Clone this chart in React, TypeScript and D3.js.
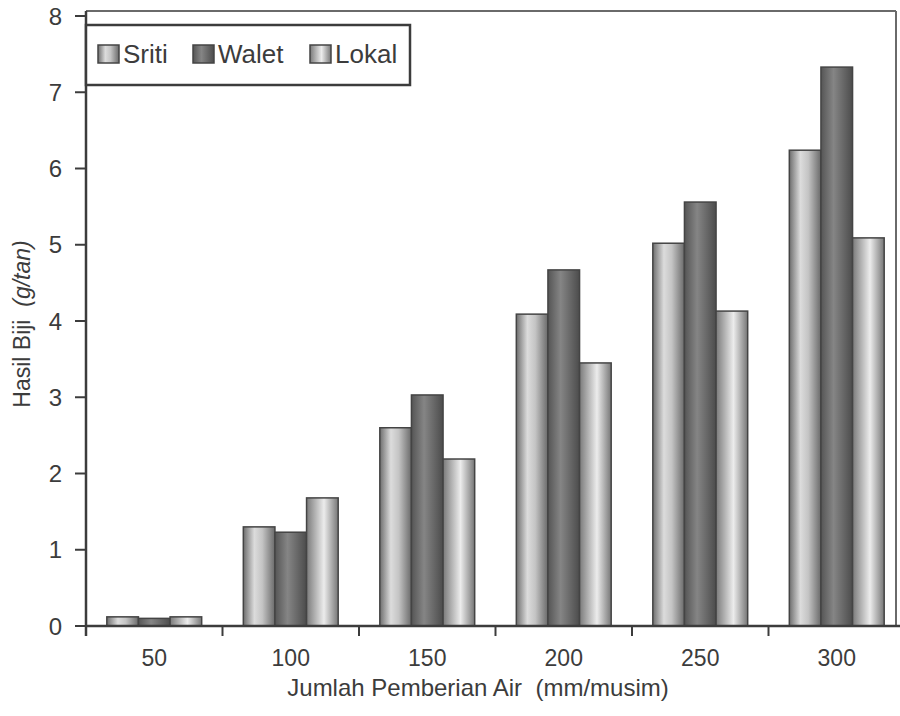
import React from "react";
import * as d3 from "d3";

const categories = ["50", "100", "150", "200", "250", "300"];
const seriesNames = ["Sriti", "Walet", "Lokal"];
const sriti = [0.12, 1.3, 2.6, 4.09, 5.02, 6.24];
const walet = [0.1, 1.23, 3.03, 4.67, 5.56, 7.33];
const lokal = [0.12, 1.68, 2.19, 3.45, 4.13, 5.09];
const yTicks = [0, 1, 2, 3, 4, 5, 6, 7, 8];

const seriesValues = [sriti, walet, lokal];
const gradIds = ["gSriti", "gWalet", "gLokal"];

export default function App() {
  const W = 900, H = 716;
  const x0 = 86, x1 = 905, yTop = 16, yBot = 626;
  const frameTop = 11, frameRight = 896;
  const x = d3.scaleBand<string>().domain(categories).range([x0, x1]).paddingInner(0.305).paddingOuter(0.1525);
  const xs = d3.scaleBand<string>().domain(seriesNames).range([0, x.bandwidth()]);
  const y = d3.scaleLinear().domain([0, 8]).range([yBot, yTop]);
  const step = x.step();
  const tickXs = d3.range(categories.length).map((i) => x0 + i * step);
  const ink = "#3c3c3c";
  const font = "Liberation Sans, Arial, sans-serif";

  return (
    <svg width={W} height={H} style={{ position: "absolute", left: 0, top: 0, background: "#fff" }}>
      <defs>
        <linearGradient id="gSriti" x1="0" x2="1" y1="0" y2="0">
          <stop offset="0%" stopColor="#6e6e6e" />
          <stop offset="35%" stopColor="#dcdcdc" />
          <stop offset="60%" stopColor="#c4c4c4" />
          <stop offset="100%" stopColor="#6a6a6a" />
        </linearGradient>
        <linearGradient id="gWalet" x1="0" x2="1" y1="0" y2="0">
          <stop offset="0%" stopColor="#555" />
          <stop offset="40%" stopColor="#858585" />
          <stop offset="100%" stopColor="#4c4c4c" />
        </linearGradient>
        <linearGradient id="gLokal" x1="0" x2="1" y1="0" y2="0">
          <stop offset="0%" stopColor="#7a7a7a" />
          <stop offset="55%" stopColor="#ececec" />
          <stop offset="100%" stopColor="#777" />
        </linearGradient>
      </defs>

      {/* frame */}
      <line x1={x0} x2={frameRight} y1={frameTop} y2={frameTop} stroke="#6a6a6a" strokeWidth={2} />
      <line x1={frameRight} x2={frameRight} y1={frameTop} y2={yBot} stroke="#6a6a6a" strokeWidth={2} />

      {/* bars */}
      {categories.map((c, i) => (
        <g key={c}>
          {seriesNames.map((s, j) => {
            const v = seriesValues[j][i];
            const bx = (x(c) as number) + (xs(s) as number);
            return (
              <rect key={s} x={bx} y={y(v)} width={xs.bandwidth()} height={yBot - y(v)}
                fill={`url(#${gradIds[j]})`} stroke="#444" strokeWidth={1.5} />
            );
          })}
        </g>
      ))}

      {/* axes */}
      <line x1={x0} x2={900} y1={yBot} y2={yBot} stroke={ink} strokeWidth={2.5} />
      <line x1={x0} x2={x0} y1={frameTop} y2={yBot + 10} stroke={ink} strokeWidth={2.5} />
      {tickXs.map((tx, i) => (
        <line key={i} x1={tx} x2={tx} y1={yBot} y2={yBot + 10} stroke={ink} strokeWidth={2} />
      ))}
      {yTicks.map((t) => (
        <g key={t}>
          <line x1={x0 - 11} x2={x0} y1={y(t)} y2={y(t)} stroke={ink} strokeWidth={2} />
          <text x={62} y={y(t)} dy="0.36em" textAnchor="end" fontFamily={font} fontSize={24} fill={ink}>{t}</text>
        </g>
      ))}
      {categories.map((c) => (
        <text key={c} x={(x(c) as number) + x.bandwidth() / 2} y={666} textAnchor="middle" fontFamily={font} fontSize={23} fill={ink}>{c}</text>
      ))}

      <text x={478} y={696} textAnchor="middle" fontFamily={font} fontSize={24} fill={ink}>
        Jumlah Pemberian Air{"\u00a0\u00a0"}(mm/musim)
      </text>
      <text transform="translate(30,324) rotate(-90)" textAnchor="middle" fontFamily={font} fontSize={23} fill={ink}>
        Hasil Biji{"\u00a0\u00a0"}<tspan fontStyle="italic">(g/tan)</tspan>
      </text>

      {/* legend */}
      <rect x={86} y={25} width={324} height={60} fill="#fff" stroke={ink} strokeWidth={2.5} />
      {seriesNames.map((s, j) => {
        const lx = [98, 193, 310][j];
        return (
          <g key={s}>
            <rect x={lx} y={45} width={21} height={18} fill={`url(#${gradIds[j]})`} stroke="#444" strokeWidth={1.5} />
            <text x={lx + 25} y={63} fontFamily={font} fontSize={26} fill={ink}>{s}</text>
          </g>
        );
      })}
    </svg>
  );
}
